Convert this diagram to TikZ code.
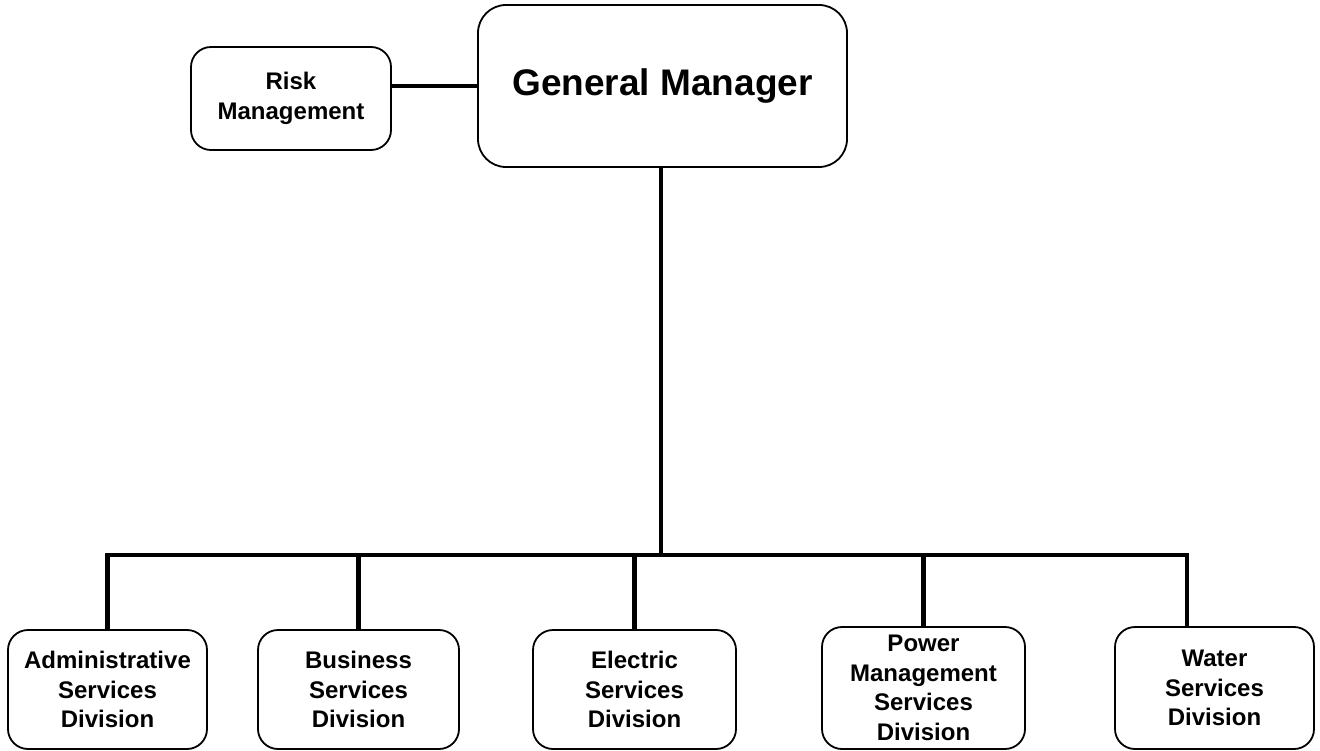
\documentclass[tikz,border=0pt]{standalone}
\usepackage{fontspec}
\setmainfont{Liberation Sans}
\usetikzlibrary{positioning,calc}

\begin{document}
\begin{tikzpicture}[x=1pt,y=-1pt,
    box/.style={draw, line width=1.8pt, rounded corners=20pt, align=center,
        inner sep=0pt, font=\bfseries\fontsize{24}{29.5}\selectfont},
    link/.style={line width=4.5pt}]
    \useasboundingbox (0,0) rectangle (1320,751);

    % top
    \node[box, minimum width=369pt, minimum height=162pt, rounded corners=28pt,
        font=\bfseries\fontsize{37}{44}\selectfont] (gm) at (662.5,86) {General Manager};
    \node[box, minimum width=200pt, minimum height=103pt] (risk) at (291,98.5) {Risk\\Management};
    \draw[link] (gm.west) -- (gm.west -| risk.east);

    % divisions
    \node[box, minimum width=199pt, minimum height=119pt] (admin) at (107.5,689.5) {Administrative\\Services\\Division};
    \node[box, minimum width=201pt, minimum height=119pt] (business) at (358.5,689.5) {Business\\Services\\Division};
    \node[box, minimum width=203pt, minimum height=119pt] (electric) at (634.5,689.5) {Electric\\Services\\Division};
    \node[box, minimum width=203pt, minimum height=122pt] (power) at (923.5,688) {Power\\Management\\Services\\Division};
    \node[box, minimum width=199pt, minimum height=122pt] (water) at (1214.5,688) {Water\\Services\\Division};

    % connectors
    \coordinate (bus) at (661,555);
    \coordinate (wtap) at (1187,555);
    \draw[link] (gm.south -| bus) -- (bus);
    \draw[link] (admin.north) -- (admin.north |- bus) -- (wtap) -- (wtap |- water.north);
    \foreach \n in {business,electric,power}
        \draw[link] (\n.north) -- (\n.north |- bus);
\end{tikzpicture}
\end{document}
